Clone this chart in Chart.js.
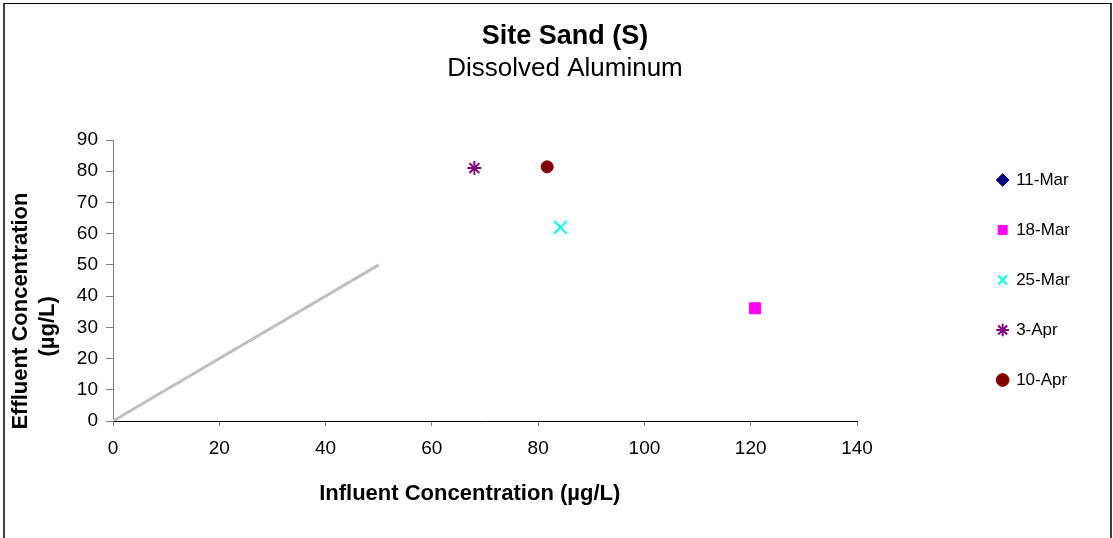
<!DOCTYPE html>
<html>
<head>
<meta charset="utf-8">
<title>Site Sand (S) - Dissolved Aluminum</title>
<script src="https://cdn.jsdelivr.net/npm/chart.js@4.4.1/dist/chart.umd.min.js"></script>
<style>
    body { margin: 0; background: #fff; }
    #wrap { position: relative; width: 1113px; height: 538px; overflow: hidden; }
    #frame {
        position: absolute; left: 3px; top: 3px; width: 1105px; height: 600px;
        border-top: 1px solid #000; border-right: 2px solid #404040; border-left: 2px solid #404040;
    }
    #grafico { position: absolute; left: 0; top: 0; }
</style>
</head>
<body>
<div id="wrap">
    <div id="frame"></div>
    <canvas id="grafico" width="1113" height="538"></canvas>
</div>
<script>
// fechas de muestreo (una serie por fecha)
const fechas = ['11-Mar', '18-Mar', '25-Mar', '3-Apr', '10-Apr'];
// concentraciones (µg/L); 11-Mar no aparece en el grafico
const influente = [null, 120.8, 84.2, 68.0, 81.7];
const efluente = [null, 36.1, 62.0, 81.0, 81.4];
const colores = ['#000080', '#FF00FF', '#00FFFF', '#800080', '#800000'];
const simbolos = ['rectRot', 'rect', 'crossRot', 'star', 'circle'];
const radios = [6, 7.8, 9, 7, 6];
const bordes = [1, 1, 2, 2, 1];

// linea de referencia 1:1
const lineaX = [0, 50];
const lineaY = [0, 50];

const ticksX = { min: 0, max: 140, step: 20 };
const ticksY = { min: 0, max: 90, step: 10 };

const fuente = 'Liberation Sans, Arial, sans-serif';
const padIzq = 50;
const padDer = 33;

const datasets = fechas.map((fecha, i) => ({
    label: fecha,
    data: influente[i] === null ? [] : [{ x: influente[i], y: efluente[i] }],
    pointStyle: simbolos[i],
    pointRadius: radios[i],
    backgroundColor: colores[i],
    borderColor: colores[i],
    borderWidth: bordes[i],
}));

datasets.push({
    label: '',
    data: lineaX.map((x, i) => ({ x: x, y: lineaY[i] })),
    showLine: true,
    borderColor: '#C0C0C0',
    borderWidth: 3,
    pointRadius: 0,
});

const ctx = document.getElementById('grafico').getContext('2d');
new Chart(ctx, {
    type: 'scatter',
    data: { datasets: datasets },
    options: {
        responsive: false,
        animation: false,
        events: [],
        devicePixelRatio: 1,
        layout: { padding: { left: padIzq, right: padDer, top: 22, bottom: 0 } },
        plugins: {
            tooltip: { enabled: false },
            title: {
                display: true,
                text: 'Site Sand (S)',
                color: '#000',
                font: { family: fuente, size: 27, weight: 'bold', lineHeight: 1.0 },
                padding: { top: 1, bottom: 0 },
            },
            subtitle: {
                display: true,
                text: 'Dissolved Aluminum',
                color: '#000',
                font: { family: fuente, size: 26, weight: 'normal', lineHeight: 1.0 },
                padding: { top: 6, bottom: 58 },
            },
            legend: {
                position: 'right',
                align: 'center',
                labels: {
                    usePointStyle: true,
                    boxWidth: 10,
                    boxHeight: 9,
                    padding: 33,
                    color: '#000',
                    font: { family: fuente, size: 17 },
                    filter: (item) => item.text !== '',
                },
            },
        },
        scales: {
            x: {
                type: 'linear',
                min: ticksX.min,
                max: ticksX.max,
                ticks: { stepSize: ticksX.step, color: '#000', padding: 11, font: { family: fuente, size: 19 } },
                grid: { drawOnChartArea: false, drawTicks: true, tickLength: 5, color: '#808080' },
                border: { color: '#000', width: 1 },
                title: {
                    display: true,
                    text: 'Influent Concentration (µg/L)     ',
                    color: '#000',
                    font: { family: fuente, size: 22, weight: 'bold', lineHeight: 1.2 },
                    padding: { top: 0, bottom: 31 },
                },
                afterFit: (s) => { s.height = 117; },
            },
            y: {
                type: 'linear',
                min: ticksY.min,
                max: ticksY.max,
                ticks: { stepSize: ticksY.step, color: '#000', padding: 8, font: { family: fuente, size: 19 } },
                grid: { drawOnChartArea: false, drawTicks: true, tickLength: 7, color: '#808080' },
                border: { color: '#808080', width: 1 },
                title: {
                    display: true,
                    text: ['Effluent Concentration          ', '(µg/L)               '],
                    color: '#000',
                    font: { family: fuente, size: 22, weight: 'bold', lineHeight: 1.2 },
                    padding: { top: 21 - padIzq - 13, bottom: 0 },
                },
                afterFit: (s) => { s.width = 113 - padIzq; },
            },
            // eje auxiliar para dejar el hueco entre el grafico y la leyenda
            y2: {
                position: 'right',
                display: true,
                ticks: { display: false },
                grid: { display: false },
                border: { display: false },
                afterFit: (s) => { s.width = Math.max(0, 1113 - padDer - 857 - (s.chart.legend ? s.chart.legend.width : 0)); },
            },
        },
    },
});
</script>
</body>
</html>
